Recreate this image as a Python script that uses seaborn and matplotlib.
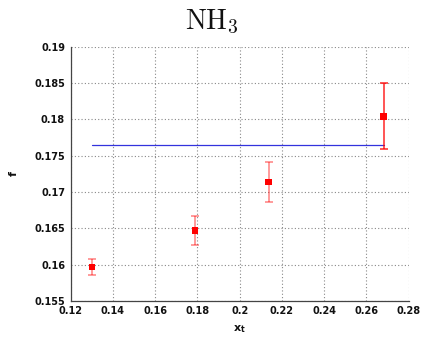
import matplotlib
matplotlib.use("Agg")
import matplotlib.pyplot as plt
import seaborn as sns
import pandas as pd
import numpy as np

x_t = [0.1301, 0.1788, 0.2137, 0.2682]
f = [0.1597, 0.1647, 0.1714, 0.1804]
f_err_low = [0.00115, 0.0020, 0.0028, 0.0045]
f_err_high = [0.0011, 0.0020, 0.0028, 0.0046]
line_x = [0.1301, 0.2682]
line_y = [0.1765, 0.1765]

sns.set_theme(style="white")
plt.rcParams['font.family'] = ['DejaVu Sans']
plt.rcParams['mathtext.fontset'] = 'dejavusans'

fig = plt.figure(figsize=(4.23, 3.40), dpi=100)
ax = fig.add_axes([0.167, 0.115, 0.799, 0.747])

df = pd.DataFrame({"x": x_t, "f": f})
ldf = pd.DataFrame({"x": line_x, "y": line_y})

sns.lineplot(data=ldf, x="x", y="y", ax=ax, color="#3333dd", linewidth=0.9, zorder=2)

for i in range(len(x_t)):
    a = 0.85 if i == len(x_t) - 1 else 0.5
    ax.errorbar([x_t[i]], [f[i]], yerr=[[f_err_low[i]], [f_err_high[i]]],
                fmt="none", ecolor="red", alpha=a, elinewidth=1.1,
                capsize=3, capthick=1.1, zorder=3)

sns.scatterplot(data=df, x="x", y="f", ax=ax, marker="s", color="red",
                s=22, edgecolor="none", zorder=4)

ax.set_xlim(0.12, 0.28)
ax.set_ylim(0.155, 0.19)
ax.set_xticks(np.arange(0.12, 0.2801, 0.02))
ax.set_yticks(np.arange(0.155, 0.1901, 0.005))
ax.set_xticklabels(["0.12", "0.14", "0.16", "0.18", "0.2", "0.22", "0.24", "0.26", "0.28"])
ax.set_yticklabels(["0.155", "0.16", "0.165", "0.17", "0.175", "0.18", "0.185", "0.19"])
ax.grid(True, linestyle=(0, (1, 2)), color="#888888", linewidth=0.8)
for s in ["top", "right"]:
    ax.spines[s].set_visible(False)
for s in ["left", "bottom"]:
    ax.spines[s].set_color("#444444")
    ax.spines[s].set_linewidth(0.9)
ax.tick_params(axis="both", direction="in", length=3, width=0.8, color="#444444",
               labelsize=7, pad=4, labelcolor="#111111")
for lab in ax.get_xticklabels() + ax.get_yticklabels():
    lab.set_fontweight("bold")

ax.set_xlabel(r"$\mathbf{x_t}$", fontsize=8, labelpad=5, color="#111111")
ax.set_ylabel("f", fontsize=8, fontweight="bold", labelpad=11, color="#111111")
fig.text(0.5, 0.935, r"$\mathrm{NH_3}$", fontsize=20, ha="center", va="center",
         math_fontfamily="cm", color="#111111")

fig.savefig("out.png", dpi=100)
